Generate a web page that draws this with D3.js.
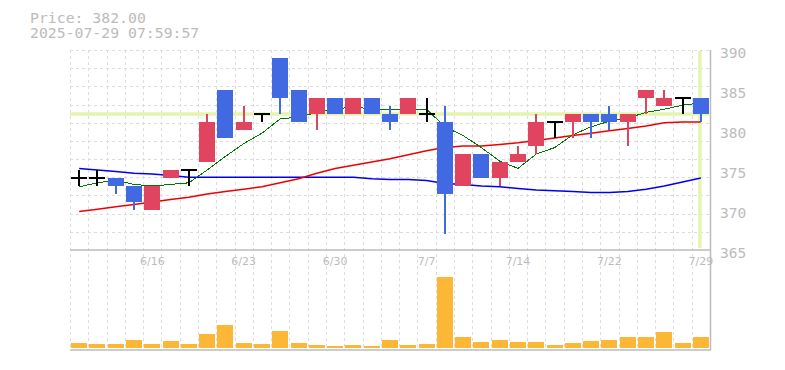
<!DOCTYPE html>
<html>
<head>
<meta charset="utf-8">
<script src="https://cdn.jsdelivr.net/npm/d3@7"></script>
<style>
  html, body { margin: 0; padding: 0; background: #fff; }
  svg { display: block; }
</style>
</head>
<body>
<div id="chart"></div>
<script>
// trading days (JP market, 7/21 holiday)
const dates = ['6/10', '6/11', '6/12', '6/13', '6/16', '6/17', '6/18', '6/19', '6/20',
  '6/23', '6/24', '6/25', '6/26', '6/27', '6/30', '7/1', '7/2', '7/3', '7/4',
  '7/7', '7/8', '7/9', '7/10', '7/11', '7/14', '7/15', '7/16', '7/17', '7/18',
  '7/22', '7/23', '7/24', '7/25', '7/28', '7/29']
const tickDates = ['6/16', '6/23', '6/30', '7/7', '7/14', '7/22', '7/29']

const opens = [374, 374, 374, 373, 370, 374, 375, 376, 385, 380, 382, 389, 385, 382, 384, 382, 384, 382,
  382, 382, 381, 373, 377, 374, 376, 378, 381, 381, 382, 382, 381, 384, 383, 384, 384]
const highs = [375, 375, 374, 373, 373, 375, 375, 382, 385, 383, 382, 389, 385, 384, 384, 384, 384, 383,
  384, 384, 383, 377, 377, 376, 378, 382, 381, 382, 382, 383, 382, 385, 385, 384, 384]
const lows = [373, 373, 372, 370, 370, 374, 373, 376, 379, 380, 381, 382, 381, 380, 382, 382, 382, 380,
  382, 381, 367, 373, 374, 373, 376, 377, 379, 379, 379, 380, 378, 382, 383, 382, 381]
const closes = [374, 374, 373, 371, 373, 375, 375, 381, 379, 381, 382, 384, 381, 384, 382, 384, 382, 381,
  384, 382, 372, 377, 374, 376, 377, 381, 381, 382, 381, 381, 382, 385, 384, 384, 382]

// moving averages
const ma5 = [372.9, 373.4, 373.7, 373.2, 373.0, 373.2, 373.4, 375.0, 376.7, 378.3, 379.6, 381.4, 381.6, 382.2,
  382.6, 382.9, 382.6, 382.6, 382.6, 382.6, 380.4, 379.3, 377.8, 376.1, 375.2, 377.0, 377.8, 379.4, 380.4,
  381.1, 381.5, 382.2, 382.6, 383.1, 383.4]
const ma25 = [369.8, 370.1, 370.4, 370.7, 371.0, 371.3, 371.6, 372.0, 372.3, 372.6, 372.9, 373.4, 373.9, 374.6,
  375.2, 375.6, 376.0, 376.4, 376.9, 377.4, 377.8, 378.0, 378.0, 378.2, 378.4, 378.7, 379.0, 379.3, 379.6,
  379.9, 380.2, 380.5, 380.9, 381.0, 381.0]
const ma75 = [375.2, 375.0, 374.8, 374.6, 374.5, 374.3, 374.1, 374.1, 374.1, 374.1, 374.1, 374.1, 374.1, 374.1,
  374.1, 374.1, 373.9, 373.8, 373.8, 373.7, 373.3, 373.2, 373.0, 372.9, 372.7, 372.5, 372.4, 372.3, 372.2,
  372.2, 372.3, 372.6, 373.0, 373.5, 374.0]

// volume (thousand shares)
const volumes = [5, 4, 4, 8, 4, 7, 4, 14, 23, 5, 4, 17, 5, 3, 2, 3, 2, 8, 3, 4, 71, 11, 6, 8, 6, 6, 3, 5, 7,
  8, 11, 11, 16, 5, 11]

const priceTicks = [365, 370, 375, 380, 385, 390]
const lastPrice = 382.00
const stamp = '2025-07-29 07:59:57'

const W = 785
const H = 370
const plotLeft = 70
const plotRight = 710
const plotTop = 50
const plotMid = 250
const plotBottom = 350

const svg = d3.select('#chart').append('svg')
  .attr('width', W)
  .attr('height', H)

const x = d3.scaleBand().domain(dates).range([plotLeft, plotRight])
const y = d3.scaleLinear().domain([365, 390]).range([plotMid, plotTop])
const yv = d3.scaleLinear().domain([0, 98]).range([plotBottom - 2, plotMid])
const cx = d => x(d) + x.bandwidth() / 2
const bodyW = 16

// grid
const grid = svg.append('g').attr('stroke', '#ddd').attr('stroke-dasharray', '3,3')
const hg = d3.scaleLinear().domain([0, 11]).range([plotTop, plotMid])
d3.range(0, 11).forEach(k => {
  grid.append('line')
    .attr('x1', plotLeft).attr('x2', plotRight)
    .attr('y1', Math.round(hg(k)) + 0.5).attr('y2', Math.round(hg(k)) + 0.5)
})
dates.forEach(d => {
  let xx = Math.round(x(d)) + 0.5
  grid.append('line')
    .attr('x1', xx).attr('x2', xx)
    .attr('y1', plotTop).attr('y2', plotBottom)
})

// borders
const border = svg.append('g').attr('stroke', '#bbb').attr('stroke-width', 1.5)
border.append('line').attr('x1', plotLeft).attr('x2', plotRight + 1).attr('y1', plotMid).attr('y2', plotMid)
border.append('line').attr('x1', plotLeft).attr('x2', plotRight + 1).attr('y1', plotBottom).attr('y2', plotBottom)
border.append('line').attr('x1', plotRight + 0.5).attr('x2', plotRight + 0.5).attr('y1', plotTop).attr('y2', plotBottom)

// current price lines
const lastDate = dates[dates.length - 1]
svg.append('line')
  .attr('x1', plotLeft).attr('x2', plotRight)
  .attr('y1', y(lastPrice)).attr('y2', y(lastPrice))
  .attr('stroke', '#e4f4ae').attr('stroke-width', 3.5)
svg.append('line')
  .attr('x1', cx(lastDate) - 1).attr('x2', cx(lastDate) - 1)
  .attr('y1', plotTop + 1).attr('y2', plotMid - 2)
  .attr('stroke', '#e4f4ae').attr('stroke-width', 3.5)

// moving averages
const maLine = arr => d3.line()
  .x((d, i) => cx(dates[i]))
  .y(d => y(d))(arr)

svg.append('path').attr('d', maLine(ma75))
  .attr('fill', 'none').attr('stroke', '#0000ee').attr('stroke-width', 1.5)
svg.append('path').attr('d', maLine(ma25))
  .attr('fill', 'none').attr('stroke', '#ee0000').attr('stroke-width', 1.5)
svg.append('path').attr('d', maLine(ma5))
  .attr('fill', 'none').attr('stroke', '#007700').attr('stroke-width', 1)
  .attr('shape-rendering', 'crispEdges')

// candles
const candle = svg.selectAll('.candle')
  .data(dates)
  .enter()
  .append('g')
  .attr('class', 'candle')

candle.each(function (d, i) {
  let g = d3.select(this)
  let o = opens[i]
  let c = closes[i]
  let color = c > o ? '#e1445f' : (c < o ? '#4169e1' : '#000')
  let xc = Math.round(cx(d))
  g.append('line')
    .attr('x1', xc).attr('x2', xc)
    .attr('y1', y(highs[i])).attr('y2', y(lows[i]))
    .attr('stroke', color).attr('stroke-width', 2)
  if (c === o) {
    g.append('line')
      .attr('x1', xc - bodyW / 2).attr('x2', xc + bodyW / 2)
      .attr('y1', y(c)).attr('y2', y(c))
      .attr('stroke', '#000').attr('stroke-width', 2)
  } else {
    g.append('rect')
      .attr('x', xc - bodyW / 2)
      .attr('width', bodyW)
      .attr('y', y(Math.max(o, c)))
      .attr('height', y(Math.min(o, c)) - y(Math.max(o, c)))
      .attr('fill', color)
  }
})

// volume
svg.selectAll('.vol')
  .data(dates)
  .enter()
  .append('rect')
  .attr('class', 'vol')
  .attr('x', d => Math.round(cx(d)) - bodyW / 2)
  .attr('width', bodyW)
  .attr('y', (d, i) => yv(volumes[i]))
  .attr('height', (d, i) => yv(0) - yv(volumes[i]))
  .attr('fill', '#fbb735')

// axes
const yAxis = svg.append('g')
  .attr('transform', 'translate(' + plotRight + ',0)')
  .call(d3.axisRight(y).tickValues(priceTicks).tickSize(0).tickPadding(10).tickFormat(d3.format('d')))
yAxis.select('.domain').remove()
yAxis.selectAll('text')
  .attr('dy', '0.55em')
  .attr('fill', '#bbb')
  .style('font-family', '"DejaVu Sans Mono", monospace')
  .style('font-size', '14.5px')

const xAxis = svg.append('g')
  .attr('transform', 'translate(0,' + plotMid + ')')
  .call(d3.axisBottom(x).tickValues(tickDates).tickSize(0).tickPadding(7))
xAxis.select('.domain').remove()
xAxis.selectAll('text')
  .attr('dy', '0.71em')
  .attr('fill', '#bbb')
  .style('font-family', '"DejaVu Sans", sans-serif')
  .style('font-size', '11px')

// header
const head = svg.append('g')
  .attr('fill', '#bbb')
  .style('font-family', '"DejaVu Sans Mono", monospace')
  .style('font-size', '14.8px')
head.append('text').attr('x', 30).attr('y', 23).text('Price: ' + lastPrice.toFixed(2))
head.append('text').attr('x', 30).attr('y', 38).text(stamp)
</script>
</body>
</html>
